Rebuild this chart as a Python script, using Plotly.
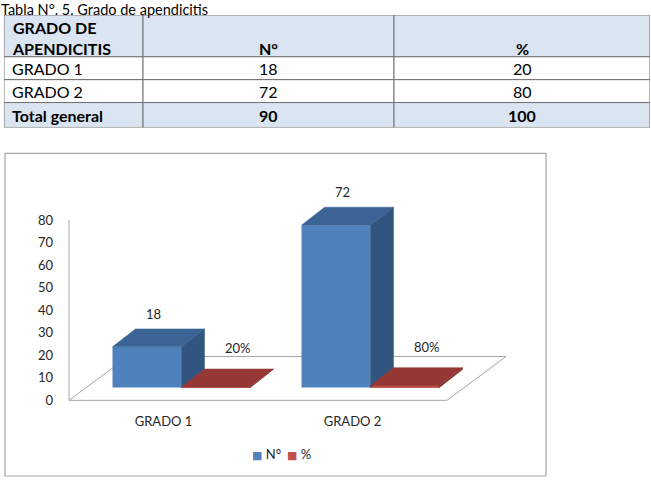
import plotly.graph_objects as go

# ---------------- data ----------------
table_title = "Tabla N°. 5. Grado de apendicitis"
header_labels = ["GRADO DE<br>APENDICITIS", "N°", "%"]
row_labels = ["GRADO 1", "GRADO 2", "Total general"]
counts = [18, 72, 90]
percents = [20, 80, 100]

categories = ["GRADO 1", "GRADO 2"]
series_names = ["N°", "%"]
n_values = [18, 72]
pct_values = [20, 80]
y_ticks = [0, 10, 20, 30, 40, 50, 60, 70, 80]

# ---------------- style / geometry ----------------
W, H = 651, 482
FONT = "Lato, 'Open Sans', sans-serif"
TXT = "#262626"
BLUE_FRONT, BLUE_TOP, BLUE_SIDE = "#4F81BD", "#3B6495", "#31557F"
RED_FRONT, RED_TOP, RED_SIDE = "#C0504D", "#953735", "#7F2F2D"
GRID = "#A6A6A6"
HEAD_FILL = "#DBE5F1"
TABLE_LINE = "#707070"

# table geometry (pixels)
T_LEFT, T_TOP = 4, 15
COL_W = [139, 251, 256]
ROW_H = [42, 23, 23, 25]   # header + body rows
T_FONT = 16
CELL_PAD = 7

# chart pixel mapping (front plane)
X0_PX, CAT_PX = 69, 189
Y0_PX, UNIT_PX = 402, 2.2625
PL, PR, PT, PB = 62, 600, 150, 408
FLOOR_DX, FLOOR_DY = 59, 44
BAR_DX, BAR_DY = 23, 18
BAR_W_PX = 69

fdx, fdy = FLOOR_DX / CAT_PX, FLOOR_DY / UNIT_PX
bdx, bdy = BAR_DX / CAT_PX, BAR_DY / UNIT_PX
ox = (FLOOR_DX - BAR_DX) / 2 / CAT_PX
oy = (FLOOR_DY - BAR_DY) / 2 / UNIT_PX
BW = BAR_W_PX / CAT_PX

x_range = [-0.5 + (PL - X0_PX) / CAT_PX, -0.5 + (PR - X0_PX) / CAT_PX]
y_range = [(Y0_PX - PB) / UNIT_PX, (Y0_PX - PT) / UNIT_PX]

fig = go.Figure()
shapes = []
annotations = []

# ---------------- table (own axis pair x2/y2, pixel units) ----------------
T_W, T_H = sum(COL_W), sum(ROW_H)
col_x = [sum(COL_W[:k]) for k in range(len(COL_W) + 1)]
row_y = [sum(ROW_H[:k]) for k in range(len(ROW_H) + 1)]
body_cols = [row_labels, counts, percents]

for r in range(len(ROW_H)):
    is_head = r == 0
    is_total = r == len(ROW_H) - 1
    fill = HEAD_FILL if (is_head or is_total) else "white"
    for c in range(len(COL_W)):
        shapes.append(dict(type="rect", xref="x2", yref="y2",
                           x0=col_x[c], x1=col_x[c + 1], y0=row_y[r], y1=row_y[r + 1],
                           fillcolor=fill, line=dict(color=TABLE_LINE, width=1),
                           layer="below"))
        if is_head:
            txt = header_labels[c]
            yy, ya = row_y[1] + 2.5, "bottom"
        else:
            txt = str(body_cols[c][r - 1])
            yy, ya = (row_y[r] + row_y[r + 1]) / 2, "middle"
        if is_head or is_total:
            txt = f"<b>{txt}</b>"
        if c == 0:
            xx, xa = col_x[c] + CELL_PAD, "left"
        else:
            xx, xa = (col_x[c] + col_x[c + 1]) / 2, "center"
        annotations.append(dict(x=xx, y=yy, xref="x2", yref="y2", xanchor=xa, yanchor=ya,
                                align="left", text=txt, showarrow=False, borderpad=0,
                                font=dict(family=FONT, size=T_FONT, color="black")))

# title
annotations.append(dict(x=0, y=1, xref="paper", yref="paper", xanchor="left",
                        yanchor="top", text=table_title, showarrow=False, borderpad=0,
                        font=dict(family=FONT, size=14.5, color="black")))

# ---------------- 3D bar chart ----------------
series = [
    (n_values, BLUE_FRONT, BLUE_TOP, BLUE_SIDE, series_names[0]),
    ([v / 100 for v in pct_values], RED_FRONT, RED_TOP, RED_SIDE, series_names[1]),
]

# floor
fx = [-0.5, len(categories) - 0.5, len(categories) - 0.5 + fdx, -0.5 + fdx]
fy = [0, 0, fdy, fdy]
path = "M " + " L ".join(f"{a},{b}" for a, b in zip(fx, fy)) + " Z"
shapes.append(dict(type="path", path=path, xref="x", yref="y", layer="below",
                   fillcolor="white", line=dict(color=GRID, width=1)))
# vertical axis line
shapes.append(dict(type="line", xref="x", yref="y", x0=-0.5, x1=-0.5,
                   y0=y_ticks[0], y1=y_ticks[-1], layer="below",
                   line=dict(color=GRID, width=1)))
# chart border
shapes.append(dict(type="rect", xref="paper", yref="paper", x0=5 / W, x1=546 / W,
                   y0=1 - 478 / H, y1=1 - 154 / H, layer="below",
                   line=dict(color=GRID, width=1.2)))

# front faces as bars
for s, (vals, cf, ct, cs, name) in enumerate(series):
    xs = [i - BW + s * BW + ox + BW / 2 for i in range(len(categories))]
    fig.add_trace(go.Bar(
        x=xs, y=vals, base=oy, width=BW, name=name,
        marker=dict(color=cf, line=dict(color=cf, width=1 if s == 1 else 0)),
        showlegend=False, hoverinfo="skip"))


def poly(px, py, color):
    fig.add_trace(go.Scatter(x=px + [px[0]], y=py + [py[0]], mode="lines",
                             fill="toself", fillcolor=color,
                             line=dict(color=color, width=0.5),
                             showlegend=False, hoverinfo="skip"))


for i in range(len(categories)):
    for s, (vals, cf, ct, cs, name) in enumerate(series):
        xl = i - BW + s * BW + ox
        xr = xl + BW
        top = oy + vals[i]
        poly([xr, xr + bdx, xr + bdx, xr], [oy, oy + bdy, top + bdy, top], cs)
        poly([xl, xr, xr + bdx, xl + bdx], [top, top, top + bdy, top + bdy], ct)

# data labels
for i in range(len(categories)):
    xl = i - BW + ox
    annotations.append(dict(x=xl + BW / 2, y=oy + n_values[i] + bdy, xref="x", yref="y",
                            text=str(n_values[i]), showarrow=False, xshift=6, yshift=15,
                            font=dict(family=FONT, size=13, color=TXT)))
    annotations.append(dict(x=xl + BW + BW / 2, y=oy + pct_values[i] / 100 + bdy,
                            xref="x", yref="y", text=f"{pct_values[i]}%", showarrow=False,
                            xshift=22, yshift=21,
                            font=dict(family=FONT, size=13, color=TXT)))

# legend (manual)
leg_x = [254, 289]
leg_cols = [BLUE_FRONT, RED_FRONT]
for name, lx, col in zip(series_names, leg_x, leg_cols):
    annotations.append(dict(x=(lx - 4) / W, y=1 - 456 / H, xref="paper", yref="paper",
                            xanchor="left", yanchor="middle", showarrow=False,
                            text=f'<span style="color:{col};font-family:DejaVu Sans;font-size:11px">■</span> {name}',
                            font=dict(family=FONT, size=13, color=TXT)))

fig.update_layout(
    width=W, height=H, margin=dict(l=0, r=0, t=0, b=0),
    paper_bgcolor="white", plot_bgcolor="rgba(0,0,0,0)",
    barmode="overlay", showlegend=False,
    shapes=shapes, annotations=annotations,
    font=dict(family=FONT, size=13, color=TXT),
    xaxis=dict(domain=[PL / W, PR / W], range=x_range, showgrid=False, zeroline=False,
               showline=False, tickmode="array", tickvals=list(range(len(categories))),
               ticktext=categories, ticks="", ticklabelstandoff=6, fixedrange=True,
               tickfont=dict(family=FONT, size=13, color=TXT)),
    yaxis=dict(domain=[1 - PB / H, 1 - PT / H], range=y_range, showgrid=False,
               zeroline=False, showline=False, tickmode="array", tickvals=y_ticks,
               ticks="", ticklabelstandoff=8, fixedrange=True,
               tickfont=dict(family=FONT, size=13, color=TXT)),
    xaxis2=dict(domain=[T_LEFT / W, (T_LEFT + T_W) / W], range=[0, T_W], visible=False,
                anchor="y2", fixedrange=True),
    yaxis2=dict(domain=[1 - (T_TOP + T_H) / H, 1 - T_TOP / H], range=[T_H, 0],
                visible=False, anchor="x2", fixedrange=True),
)

fig.write_html("out.html")
